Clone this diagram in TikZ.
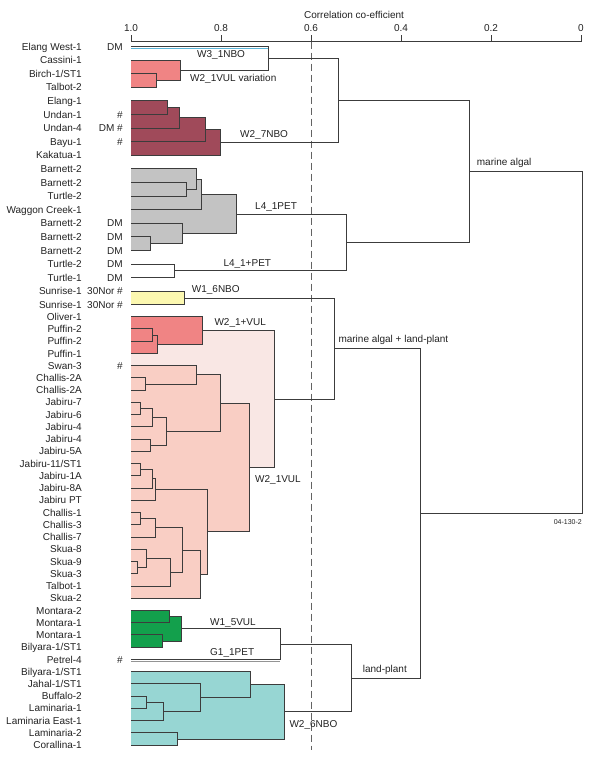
\documentclass[tikz,border=0pt]{standalone}
\usepackage{fontspec}
\setmainfont{Liberation Sans}
\usetikzlibrary{calc}
\pgfdeclarelayer{back}
\pgfdeclarelayer{mid}
\pgfsetlayers{back,mid,main}
\definecolor{ln}{HTML}{3C3C3C}
\definecolor{txt}{HTML}{222222}
\definecolor{cpink}{HTML}{F08484}
\definecolor{cmaroon}{HTML}{A04A5A}
\definecolor{cgrey}{HTML}{C3C3C3}
\definecolor{cyellow}{HTML}{FCF8B0}
\definecolor{csalmon}{HTML}{F9CEC4}
\definecolor{clight}{HTML}{F9E7E4}
\definecolor{cgreen}{HTML}{13A04C}
\definecolor{cteal}{HTML}{97D6D3}
\definecolor{cblue}{HTML}{5AB4D8}
\newcommand\lblfont{\fontsize{10}{12}\selectfont}
\newcommand\smallfnt{\fontsize{7}{8}\selectfont}
\newcommand\mrg[5]{%
  \path let \p1=(#2), \p2=(#3) in coordinate (#1) at (#4pt,{0.5*\y1+0.5*\y2});
  \begin{pgfonlayer}{mid}\path[#5] (#2 -| L0) rectangle (#3 -| #1);\end{pgfonlayer}
  \draw[dl] (#2) -- (#2 -| #1) -- (#3 -| #1) -- (#3);
}
\begin{document}
\begin{tikzpicture}[x=1pt,y=-1pt,
  dl/.style={draw=ln,line width=0.9pt},
  lab/.style={font=\lblfont,text=txt,inner sep=0pt},
  grplab/.style={lab,anchor=base west},
  fpink/.style={fill=cpink},
  fmaroon/.style={fill=cmaroon},
  fgrey/.style={fill=cgrey},
  fyellow/.style={fill=cyellow},
  fsalmon/.style={fill=csalmon},
  fgreen/.style={fill=cgreen},
  fteal/.style={fill=cteal},
  cutline/.style={draw=ln!80,line width=0.7pt,dash pattern=on 7pt off 4pt}]
\useasboundingbox (0,0) rectangle (600,764);
% leaves
\foreach \i in {0,...,19} \coordinate (L\i) at (131,{46.5+13.6*\i});
\foreach \i in {20,...,55} \coordinate (L\i) at (131,{316.7+12.24*(\i-20)});
% axis
\coordinate (ax1) at (131,41.7);
\coordinate (ax0) at (581,41.7);
\draw[dl,line width=0.7pt] (ax1) -- (ax0);
\foreach \c/\t [count=\k] in {1/1.0,0.8/0.8,0.6/0.6,0.4/0.4,0.2/0.2,0/0} {
  \coordinate (tk\k) at ({581-450*\c},41.7);
  \draw[dl,line width=0.7pt] (tk\k) -- ++(0,-6.7);
  \node[lab,anchor=base] (tl\k) at ($(tk\k)+(0,-9.8)$) {\t};
}
\node[lab,anchor=base] (title) at (354,18.3) {Correlation co-efficient};
% cut-off line
\coordinate (d0) at (311,41.7);
\coordinate (d1) at (311,750);
\begin{pgfonlayer}{mid}\draw[cutline] (d0) -- (d1);\end{pgfonlayer}
% W2_1VUL variation + W3_1NBO
\mrg{v1}{L2}{L3}{156}{fpink}
\mrg{v2}{L1}{v1}{180}{fpink}
\mrg{w3}{L0}{v2}{268}{}
\draw[draw=ln,line width=1.6pt] (L0) -- (L0 -| w3);
\draw[draw=cblue,line width=1.1pt] ($(L0)+(0,2.2)$) -- ($(L0 -| w3)+(0,2.2)$);
% W2_7NBO
\mrg{u1}{L4}{L5}{167}{fmaroon}
\mrg{u2}{u1}{L6}{179.3}{fmaroon}
\mrg{u3}{u2}{L7}{205}{fmaroon}
\mrg{u4}{u3}{L8}{220.7}{fmaroon}
\mrg{a1}{w3}{u4}{338.3}{}
% L4_1PET
\mrg{g1}{L10}{L11}{186.7}{fgrey}
\mrg{g2}{L9}{g1}{196}{fgrey}
\mrg{g3}{g2}{L12}{201}{fgrey}
\mrg{g4}{L14}{L15}{150}{fgrey}
\mrg{g5}{L13}{g4}{182.7}{fgrey}
\mrg{g6}{g3}{g5}{236}{fgrey}
% L4_1+PET
\mrg{t1}{L16}{L17}{174}{}
\mrg{g7}{g6}{t1}{346.7}{}
\mrg{ma}{a1}{g7}{469.3}{}
% W1_6NBO
\mrg{s1}{L18}{L19}{184.3}{fyellow}
% W2_1+VUL
\mrg{r1}{L21}{L22}{152.3}{fpink}
\mrg{r2}{r1}{L23}{157.7}{fpink}
\mrg{r3}{L20}{r2}{202.7}{fpink}
% W2_1VUL main
\mrg{c1}{L25}{L26}{145}{fsalmon}
\mrg{c2}{L24}{c1}{196}{fsalmon}
\mrg{j1}{L27}{L28}{140.7}{fsalmon}
\mrg{j2}{j1}{L29}{152.3}{fsalmon}
\mrg{j3}{L30}{L31}{150}{fsalmon}
\mrg{j4}{j2}{j3}{166.7}{fsalmon}
\mrg{sa}{c2}{j4}{220}{fsalmon}
\mrg{k1}{L32}{L33}{140}{fsalmon}
\mrg{k2}{k1}{L34}{152.3}{fsalmon}
\mrg{k3}{k2}{L35}{155}{fsalmon}
\mrg{h1}{L36}{L37}{140}{fsalmon}
\mrg{h2}{h1}{L38}{155}{fsalmon}
\mrg{q1}{L40}{L41}{137.3}{fsalmon}
\mrg{q2}{L39}{q1}{146}{fsalmon}
\mrg{q3}{q2}{L42}{170.7}{fsalmon}
\mrg{h3}{h2}{q3}{182.7}{fsalmon}
\mrg{h4}{h3}{L43}{200}{fsalmon}
\mrg{k4}{k3}{h4}{207.3}{fsalmon}
\mrg{sb}{sa}{k4}{249.3}{fsalmon}
\mrg{wv}{r3}{sb}{274.3}{}
\begin{pgfonlayer}{back}\fill[clight] (r3 -| L0) rectangle (sb -| wv);\end{pgfonlayer}
\mrg{ml}{s1}{wv}{334.3}{}
% W1_5VUL, G1_1PET
\mrg{e1}{L44}{L45}{169.3}{fgreen}
\mrg{e2}{L46}{L47}{162}{fgreen}
\mrg{e3}{e1}{e2}{181}{fgreen}
\mrg{e4}{e3}{L48}{280}{}
\draw[draw=ln!55,line width=0.9pt] ($(L48)+(0,1.8)$) -- ($(L48 -| e4)+(0,1.8)$);
% W2_6NBO
\mrg{b1}{L51}{L52}{146}{fteal}
\mrg{b2}{b1}{L53}{163.3}{fteal}
\mrg{b3}{L50}{b2}{200}{fteal}
\mrg{b4}{L49}{b3}{250}{fteal}
\mrg{b5}{L54}{L55}{177.3}{fteal}
\mrg{b6}{b4}{b5}{284.3}{fteal}
\mrg{lp}{e4}{b6}{351.7}{}
\mrg{mlp}{ml}{lp}{420}{}
\coordinate (rootx) at (582,0);
\draw[dl] (ma) -- (ma -| rootx) -- (mlp -| rootx) -- (mlp);
% leaf labels
\foreach \i/\n in {0/Elang West-1,1/Cassini-1,2/{Birch-1/ST1},3/Talbot-2,4/Elang-1,5/Undan-1,6/Undan-4,7/Bayu-1,8/Kakatua-1,9/Barnett-2,10/Barnett-2,11/Turtle-2,12/Waggon Creek-1,13/Barnett-2,14/Barnett-2,15/Barnett-2,16/Turtle-2,17/Turtle-1,18/Sunrise-1,19/Sunrise-1,20/Oliver-1,21/Puffin-2,22/Puffin-2,23/Puffin-1,24/Swan-3,25/Challis-2A,26/Challis-2A,27/Jabiru-7,28/Jabiru-6,29/Jabiru-4,30/Jabiru-4,31/Jabiru-5A,32/{Jabiru-11/ST1},33/Jabiru-1A,34/Jabiru-8A,35/Jabiru PT,36/Challis-1,37/Challis-3,38/Challis-7,39/Skua-8,40/Skua-9,41/Skua-3,42/Talbot-1,43/Skua-2,44/Montara-2,45/Montara-1,46/Montara-1,47/{Bilyara-1/ST1},48/Petrel-4,49/{Bilyara-1/ST1},50/{Jahal-1/ST1},51/Buffalo-2,52/Laminaria-1,53/Laminaria East-1,54/Laminaria-2,55/Corallina-1}
  \node[lab,anchor=base east] (n\i) at ($(L\i)+(-49,3.6)$) {\n};
\foreach \i/\f in {0/DM,5/\#,6/DM \#,7/\#,13/DM,14/DM,15/DM,16/DM,17/DM,18/30Nor \#,19/30Nor \#,24/\#,48/\#}
  \node[lab,anchor=base east] (f\i) at ($(L\i)+(-8,3.6)$) {\f};
% group labels
\node[grplab] (lw3) at (197,57.1) {W3\_1NBO};
\node[grplab] (lvar) at (190,81.9) {W2\_1VUL variation};
\node[grplab] (lw27) at (240,137.6) {W2\_7NBO};
\node[grplab] (ll4) at (255,209.3) {L4\_1PET};
\node[grplab] (ll4p) at (223.3,266.3) {L4\_1+PET};
\node[grplab] (lw16) at (191.7,292.9) {W1\_6NBO};
\node[grplab] (lw21p) at (214.3,325.6) {W2\_1+VUL};
\node[grplab] (lw21) at (255,482.9) {W2\_1VUL};
\node[grplab] (lw15) at (210,625.3) {W1\_5VUL};
\node[grplab] (lg1) at (210,655.9) {G1\_1PET};
\node[grplab] (lw26) at (289.3,727.6) {W2\_6NBO};
\node[grplab] (lma) at (476.7,165.6) {marine algal};
\node[grplab] (lmalp) at (338.3,342.9) {marine algal + land-plant};
\node[grplab] (llp) at (362.7,672.6) {land-plant};
\node[lab,font=\smallfnt,anchor=base east] (code) at (582,524.2) {04-130-2};
\end{tikzpicture}
\end{document}
